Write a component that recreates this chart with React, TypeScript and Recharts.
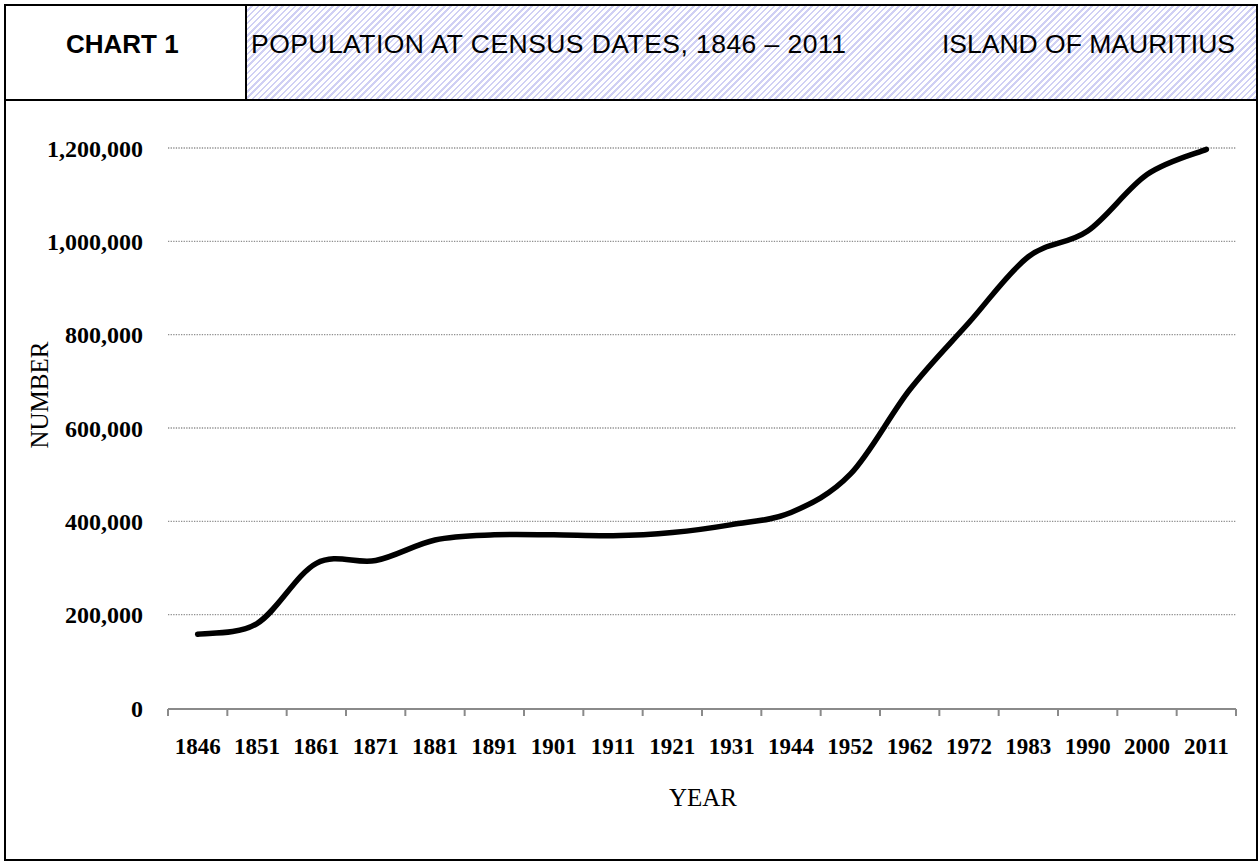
import React from 'react';
import { LineChart, Line, XAxis, YAxis, CartesianGrid } from 'recharts';

const years = ['1846', '1851', '1861', '1871', '1881', '1891', '1901', '1911', '1921', '1931', '1944', '1952', '1962', '1972', '1983', '1990', '2000', '2011'];
const population = [158000, 181000, 310000, 316000, 360000, 371000, 371000, 369000, 376000, 393000, 419000, 501000, 682000, 826000, 967000, 1022000, 1143000, 1197000];
const yTicks = [0, 200000, 400000, 600000, 800000, 1000000, 1200000];
const gridValues = yTicks.slice(1);
const boundaryTicks = years.map((_, i) => i).concat([years.length]);

// slot = category position (band centre) used by the tick-mark axis
const data = years.map((y, i) => ({ year: y, slot: i + 0.5, value: population[i] }));

// Excel-like smoothed line (Catmull-Rom via cubic Bezier)
const smoothCurve: any = (context: any) => {
  let pts: [number, number][] = [];
  return {
    areaStart() {},
    areaEnd() {},
    lineStart() {
      pts = [];
    },
    point(x: number, y: number) {
      pts.push([+x, +y]);
    },
    lineEnd() {
      const n = pts.length;
      if (!n) return;
      context.moveTo(pts[0][0], pts[0][1]);
      const t = 1 / 6;
      for (let i = 0; i < n - 1; i++) {
        const p0 = pts[Math.max(i - 1, 0)];
        const p1 = pts[i];
        const p2 = pts[i + 1];
        const p3 = pts[Math.min(i + 2, n - 1)];
        context.bezierCurveTo(
          p1[0] + (p2[0] - p0[0]) * t,
          p1[1] + (p2[1] - p0[1]) * t,
          p2[0] - (p3[0] - p1[0]) * t,
          p2[1] - (p3[1] - p1[1]) * t,
          p2[0],
          p2[1]
        );
      }
    },
  };
};

const CHART_W = 1258;
const CHART_H = 861;
const PLOT_W = 1068;
const HALF_BAND = PLOT_W / years.length / 2;

const sans = '"Liberation Sans", Arial, sans-serif';
const serif = '"Liberation Serif", "Times New Roman", serif';

export default function App() {
  return (
    <div style={{ position: 'absolute', left: 0, top: 0, width: CHART_W, height: CHART_H, background: '#fff' }}>
      {/* outer frame */}
      <div
        style={{
          position: 'absolute',
          left: 4,
          top: 4,
          width: 1254,
          height: 857,
          border: '2px solid #000',
          boxSizing: 'border-box',
        }}
      />
      {/* header bottom line */}
      <div style={{ position: 'absolute', left: 6, top: 99, width: 1250, height: 2, background: '#000' }} />
      {/* hatched title cell */}
      <div
        style={{
          position: 'absolute',
          left: 247,
          top: 6,
          width: 1009,
          height: 93,
          background:
            'repeating-linear-gradient(135deg, #ffffff 0px, #ffffff 2.7px, #d0d0f4 2.7px, #d0d0f4 4.4px)',
        }}
      />
      {/* vertical divider */}
      <div style={{ position: 'absolute', left: 245, top: 6, width: 2, height: 93, background: '#000' }} />
      <div
        style={{
          position: 'absolute',
          left: 66,
          top: 31,
          fontFamily: sans,
          fontWeight: 'bold',
          fontSize: 26,
          lineHeight: '26px',
          color: '#000',
          whiteSpace: 'nowrap',
        }}
      >
        CHART 1
      </div>
      <div
        style={{
          position: 'absolute',
          left: 251,
          top: 31,
          fontFamily: sans,
          fontSize: 26.5,
          letterSpacing: '0.45px',
          lineHeight: '26px',
          color: '#000',
          whiteSpace: 'nowrap',
        }}
      >
        POPULATION AT CENSUS DATES, 1846 – 2011
      </div>
      <div
        style={{
          position: 'absolute',
          left: 942,
          top: 31,
          fontFamily: sans,
          fontSize: 26.5,
          lineHeight: '26px',
          color: '#000',
          whiteSpace: 'nowrap',
        }}
      >
        ISLAND OF MAURITIUS
      </div>

      <div style={{ position: 'absolute', left: 0, top: 0 }}>
        <LineChart
          width={CHART_W}
          height={CHART_H}
          data={data}
          margin={{ top: 148, right: 22, bottom: 93, left: 18 }}
        >
          <CartesianGrid
            horizontal={true}
            vertical={false}
            horizontalValues={gridValues}
            stroke="#8f8f8f"
            strokeWidth={1.3}
            strokeDasharray="1.3 1.3"
          />
          <XAxis
            xAxisId="bounds"
            dataKey="slot"
            type="number"
            domain={[0, years.length]}
            ticks={boundaryTicks}
            interval={0}
            allowDataOverflow
            height={59}
            tick={{ fill: 'transparent', fontSize: 1 }}
            tickFormatter={() => ''}
            tickSize={7}
            axisLine={{ stroke: '#8a8a8a', strokeWidth: 2.2 }}
            tickLine={{ stroke: '#8a8a8a', strokeWidth: 2 }}
          />
          <XAxis
            dataKey="year"
            type="category"
            height={1}
            padding={{ left: HALF_BAND, right: HALF_BAND }}
            interval={0}
            axisLine={false}
            tickLine={false}
            tickSize={0}
            tickMargin={30}
            tick={{ fill: '#000', fontFamily: serif, fontWeight: 'bold', fontSize: 23 }}
          />
          <YAxis
            width={150}
            domain={[0, 1200000]}
            ticks={yTicks}
            interval={0}
            axisLine={false}
            tickLine={false}
            tickSize={0}
            tickMargin={25}
            tickFormatter={(v: number) => v.toLocaleString('en-US')}
            tick={{ fill: '#000', fontFamily: serif, fontWeight: 'bold', fontSize: 24 }}
          />
          <Line
            dataKey="value"
            type={smoothCurve}
            stroke="#000"
            strokeWidth={5.5}
            strokeLinecap="round"
            dot={false}
            activeDot={false}
            isAnimationActive={false}
          />
        </LineChart>
      </div>

      <div
        style={{
          position: 'absolute',
          left: 38.5,
          top: 395,
          transform: 'translate(-50%, -50%) rotate(-90deg)',
          fontFamily: serif,
          fontSize: 25,
          lineHeight: '25px',
          color: '#000',
          whiteSpace: 'nowrap',
        }}
      >
        NUMBER
      </div>
      <div
        style={{
          position: 'absolute',
          left: 703,
          top: 797,
          transform: 'translate(-50%, -50%)',
          fontFamily: serif,
          fontSize: 25,
          lineHeight: '25px',
          color: '#000',
          whiteSpace: 'nowrap',
        }}
      >
        YEAR
      </div>
    </div>
  );
}
